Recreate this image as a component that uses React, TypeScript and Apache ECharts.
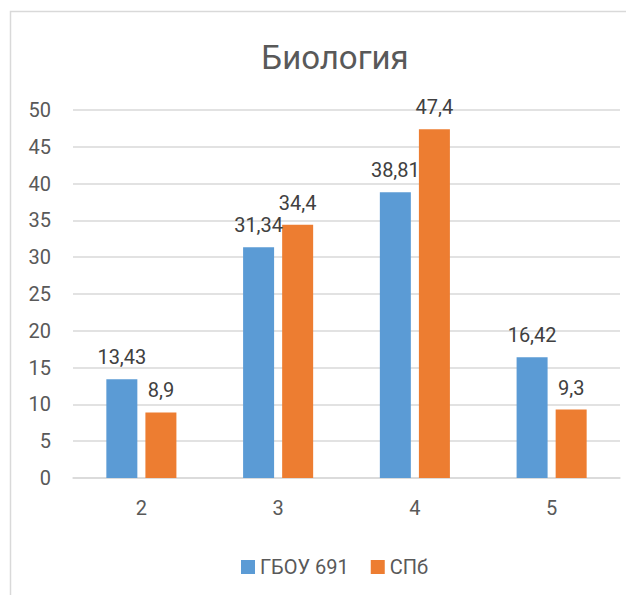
import React, { useEffect, useRef } from "react";
import * as echarts from "echarts";

const categories = ["2", "3", "4", "5"];
const seriesNames = ["ГБОУ 691", "СПб"];
const schoolValues = [13.43, 31.34, 38.81, 16.42];
const cityValues = [8.9, 34.4, 47.4, 9.3];
const colors = ["#5B9BD5", "#ED7D31"];
const FONT = "Roboto, 'Noto Sans', sans-serif";

const fmt = (p: any) => String(p.value).replace(".", ",");

export default function App() {
  const ref = useRef<HTMLDivElement>(null);
  useEffect(() => {
    if (!ref.current) return;
    const chart = echarts.init(ref.current, null, { renderer: "svg" });
    const label = {
      show: true,
      position: "top" as const,
      distance: 12,
      formatter: fmt,
      color: "#404040",
      fontSize: 20,
      fontFamily: FONT,
    };
    chart.setOption({
      animation: false,
      backgroundColor: "#ffffff",
      title: {
        text: "Биология",
        left: 330,
        top: 36,
        textAlign: "center",
        textStyle: { color: "#595959", fontSize: 33, fontWeight: "normal", fontFamily: FONT },
      },
      graphic: [
        {
          type: "rect",
          shape: { x: 10.5, y: 11.5, width: 800, height: 800 },
          style: { fill: "none", stroke: "#d9d9d9", lineWidth: 1.5 },
          silent: true,
        },
      ],
      legend: {
        data: seriesNames,
        left: 236,
        top: 552,
        itemWidth: 14,
        itemHeight: 14,
        itemGap: 22,
        icon: "rect",
        textStyle: { color: "#595959", fontSize: 20, fontFamily: FONT },
      },
      grid: { left: 73, right: 6, top: 110, bottom: 117, containLabel: false },
      xAxis: {
        type: "category",
        data: categories,
        axisLine: { lineStyle: { color: "#d9d9d9", width: 1.5 } },
        axisTick: { show: false },
        axisLabel: { color: "#595959", fontSize: 20, fontFamily: FONT, margin: 20 },
      },
      yAxis: {
        type: "value",
        min: 0,
        max: 50,
        interval: 5,
        axisLine: { show: false },
        axisTick: { show: false },
        splitLine: { lineStyle: { color: "#d9d9d9", width: 1.5 } },
        axisLabel: { color: "#595959", fontSize: 20, fontFamily: FONT, margin: 22 },
      },
      series: [
        {
          name: seriesNames[0],
          type: "bar",
          data: schoolValues,
          barWidth: 31,
          barGap: "26%",
          itemStyle: { color: colors[0] },
          label,
        },
        {
          name: seriesNames[1],
          type: "bar",
          data: cityValues,
          barWidth: 31,
          itemStyle: { color: colors[1] },
          label,
        },
      ],
    });
    return () => chart.dispose();
  }, []);
  return (
    <div
      ref={ref}
      style={{ position: "fixed", left: 0, top: 0, width: 626, height: 595, background: "#fff" }}
    />
  );
}
